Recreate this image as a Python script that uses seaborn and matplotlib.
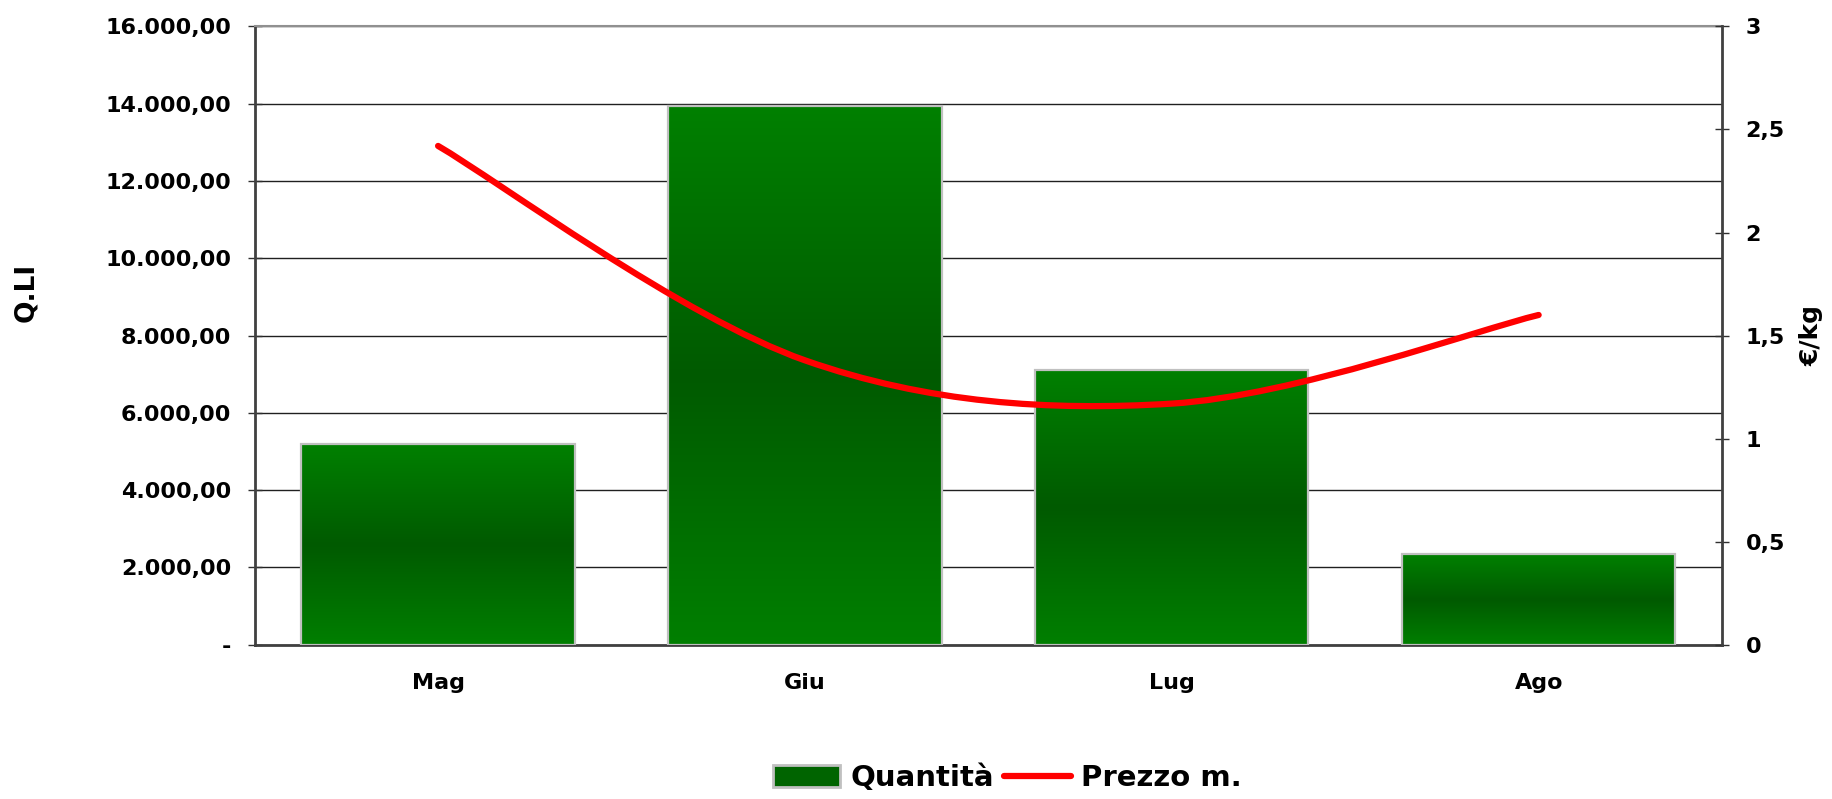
### Bibliotheken
import numpy as np
import pandas as pd
import matplotlib
matplotlib.use("Agg")
import matplotlib.pyplot as plt
import seaborn as sns
from matplotlib.path import Path
from matplotlib.patches import PathPatch, Patch
from matplotlib.lines import Line2D
from matplotlib.colors import LinearSegmentedColormap
from matplotlib.ticker import FuncFormatter, FixedLocator


### Daten
mesi = ["Mag", "Giu", "Lug", "Ago"]
quantita = [5200, 13930, 7100, 2350]      # Q.LI
prezzo = [2.42, 1.38, 1.17, 1.60]         # €/kg

q_ticks = list(range(0, 16001, 2000))
p_ticks = [0, 0.5, 1, 1.5, 2, 2.5, 3]


### Stil
sns.set_style("white")
plt.rcParams["font.family"] = ["DejaVu Sans"]
plt.rcParams["font.weight"] = "bold"
plt.rcParams["text.color"] = "black"
plt.rcParams["axes.labelcolor"] = "black"
plt.rcParams["xtick.color"] = "black"
plt.rcParams["ytick.color"] = "black"

df = pd.DataFrame({"mese": mesi, "quantita": quantita, "prezzo": prezzo})

fig = plt.figure(figsize=(18.32, 7.99), dpi=100)
ax = fig.add_axes([0.139, 0.193, 0.801, 0.774])

# Balken
sns.barplot(data=df, x="mese", y="quantita", ax=ax, color="#006400",
            width=0.745, edgecolor="#c0c0c0", linewidth=1.6, zorder=2)

# Farbverlauf in den Balken (hell - dunkel - hell)
cmap = LinearSegmentedColormap.from_list(
    "verde", [(0.0, "#008000"), (0.5, "#005a00"), (1.0, "#007f00")])
grad = np.linspace(0, 1, 256).reshape(-1, 1)
for bar in ax.patches:
    x0, y0 = bar.get_x(), bar.get_y()
    w, h = bar.get_width(), bar.get_height()
    im = ax.imshow(grad, extent=[x0, x0 + w, y0, y0 + h], aspect="auto",
                   cmap=cmap, origin="upper", zorder=2.5)
    im.set_clip_path(bar)
    bar.set_facecolor("none")
    bar.set_zorder(3)

ax.set_xlim(-0.5, 3.5)
ax.set_ylim(0, 16000)
ax.set_yticks(q_ticks)


def fmt_q(v, pos):
    if v == 0:
        return "-"
    s = f"{v:,.2f}"
    return s.replace(",", "X").replace(".", ",").replace("X", ".")


ax.yaxis.set_major_formatter(FuncFormatter(fmt_q))
ax.yaxis.grid(True, color="#202020", linewidth=1.0)
ax.set_axisbelow(True)

ax.xaxis.set_minor_locator(FixedLocator([-0.5, 0.5, 1.5, 2.5, 3.5]))
ax.tick_params(axis="x", which="major", length=0, pad=20, labelsize=16)
ax.tick_params(axis="x", which="minor", direction="inout", length=12,
               width=1, color="#303030")
ax.tick_params(axis="y", direction="inout", length=10, width=1,
               color="#303030", pad=12, labelsize=16)
ax.set_xlabel("")
ax.set_ylabel("Q.LI", fontsize=19, fontweight="bold")
ax.yaxis.set_label_coords(-0.147, 0.57)

for side in ["left", "bottom"]:
    ax.spines[side].set_color("#404040")
    ax.spines[side].set_linewidth(2)
ax.spines["top"].set_color("#909090")
ax.spines["top"].set_linewidth(1.5)
ax.spines["right"].set_visible(False)

# Zweite Achse für den Preis
ax2 = ax.twinx()
ax2.set_ylim(0, 3)
ax2.set_yticks(p_ticks)
ax2.yaxis.set_major_formatter(FuncFormatter(lambda v, pos: f"{v:g}".replace(".", ",")))
ax2.tick_params(axis="y", direction="inout", length=10, width=1,
                color="#303030", pad=12, labelsize=16)
ax2.set_ylabel("€/kg", fontsize=18, fontweight="bold")
ax2.yaxis.set_label_coords(1.0525, 0.5)
ax2.grid(False)
for side in ["left", "top", "bottom"]:
    ax2.spines[side].set_visible(False)
ax2.spines["right"].set_color("#404040")
ax2.spines["right"].set_linewidth(2)

# geglättete Preislinie (Bezier durch die Datenpunkte)
pts = np.column_stack([np.arange(len(prezzo)), prezzo])
verts = [tuple(pts[0])]
codes = [Path.MOVETO]
for i in range(len(pts) - 1):
    p_prev = pts[i - 1] if i > 0 else pts[i]
    p_next2 = pts[i + 2] if i + 2 < len(pts) else pts[i + 1]
    c1 = pts[i] + (pts[i + 1] - p_prev) / 6
    c2 = pts[i + 1] - (p_next2 - pts[i]) / 6
    verts += [tuple(c1), tuple(c2), tuple(pts[i + 1])]
    codes += [Path.CURVE4, Path.CURVE4, Path.CURVE4]
linea = PathPatch(Path(verts, codes), facecolor="none", edgecolor="#ff0000",
                  linewidth=4.5, capstyle="round", joinstyle="round", zorder=4)
ax2.add_patch(linea)

# Legende
handles = [Patch(facecolor="#006400", edgecolor="#c0c0c0", linewidth=2),
           Line2D([0], [0], color="#ff0000", lw=4.5, solid_capstyle="round")]
fig.legend(handles, ["Quantità", "Prezzo m."], loc="center",
           bbox_to_anchor=(0.55, 0.026), ncol=2, frameon=False,
           prop={"weight": "bold", "size": 21}, handlelength=2.3,
           handleheight=0.8, columnspacing=0.35, handletextpad=0.35)

fig.savefig("out.png", dpi=100)
